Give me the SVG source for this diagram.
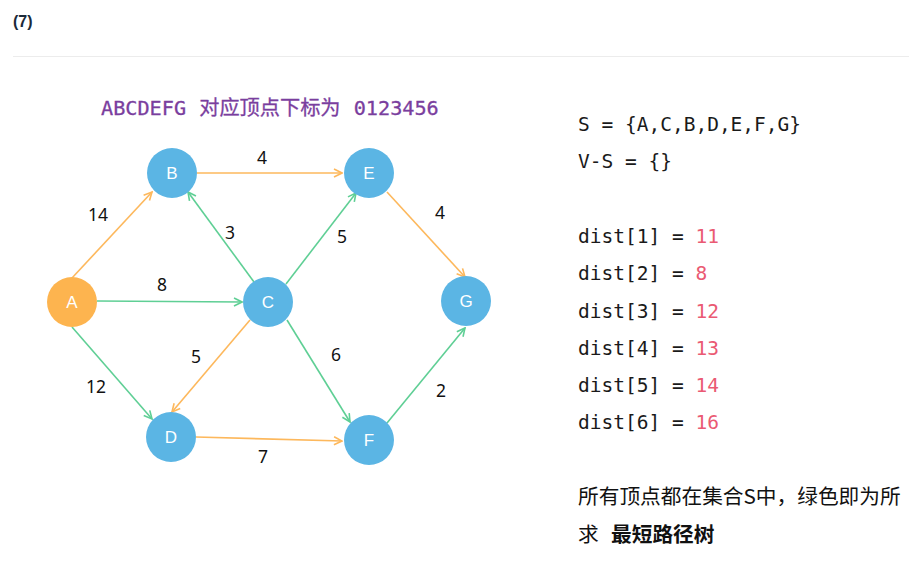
<svg xmlns="http://www.w3.org/2000/svg" width="909" height="567" viewBox="0 0 909 567">
<style>
.node circle{fill:#5bb5e4}
.node text{font-family:"Liberation Sans",Arial,sans-serif;font-size:17px;fill:#fff;text-anchor:middle}
.g{stroke:#5fcf95;stroke-width:1.6;fill:none;marker-end:url(#ag)}
.o{stroke:#fdb85c;stroke-width:1.6;fill:none;marker-end:url(#ao)}
.lbl{font-family:"Noto Sans","DejaVu Sans",sans-serif;font-size:17.5px;fill:#111;text-anchor:middle}
.mono{font-family:"DejaVu Sans Mono","Noto Sans CJK SC",monospace;font-size:19.5px;fill:#1a1a1a}
.num{fill:#ea5a73}
.cjk{font-family:"Noto Sans CJK SC","Noto Sans",sans-serif;font-size:20.7px;fill:#111}
</style>
<defs>
<marker id="ag" viewBox="0 0 10 10" refX="9" refY="5" markerWidth="10" markerHeight="10" markerUnits="userSpaceOnUse" orient="auto"><path d="M1,1 L9,5 L1,9" fill="none" stroke="#5fcf95" stroke-width="1.6"/></marker>
<marker id="ao" viewBox="0 0 10 10" refX="9" refY="5" markerWidth="10" markerHeight="10" markerUnits="userSpaceOnUse" orient="auto"><path d="M1,1 L9,5 L1,9" fill="none" stroke="#fdb85c" stroke-width="1.6"/></marker>
</defs>
<rect width="909" height="567" fill="#fff"/>
<text x="13" y="27" font-family="Liberation Sans,Arial,sans-serif" font-size="16" font-weight="bold" fill="#1b2a3a">(7)</text>
<line x1="13" y1="56.5" x2="909" y2="56.5" stroke="#ececec" stroke-width="1"/>
<text x="101" y="115" font-family="DejaVu Sans Mono,Noto Sans CJK SC,monospace" font-size="20.2" word-spacing="1" fill="#7a3e9e" stroke="#7a3e9e" stroke-width="0.3">ABCDEFG 对应顶点下标为 0123456</text>
<g id="edges">
<line class="o" x1="72" y1="278" x2="152" y2="192"/>
<line class="g" x1="97" y1="301" x2="242" y2="302"/>
<line class="g" x1="254" y1="282" x2="188" y2="192"/>
<line class="o" x1="197" y1="173" x2="342" y2="173"/>
<line class="g" x1="286" y1="284" x2="356" y2="193"/>
<line class="o" x1="387" y1="192" x2="465" y2="277"/>
<line class="g" x1="72" y1="327" x2="152" y2="419"/>
<line class="o" x1="250" y1="320" x2="172" y2="412"/>
<line class="g" x1="287" y1="320" x2="350" y2="422"/>
<line class="o" x1="196" y1="437" x2="342" y2="441"/>
<line class="g" x1="387" y1="423" x2="465" y2="328"/>
</g>
<g id="edge-labels">
<text class="lbl" x="262" y="164">4</text>
<text class="lbl" x="98" y="221">14</text>
<text class="lbl" x="230" y="239">3</text>
<text class="lbl" x="162" y="291">8</text>
<text class="lbl" x="342" y="243">5</text>
<text class="lbl" x="440" y="219">4</text>
<text class="lbl" x="196" y="363">5</text>
<text class="lbl" x="336" y="361">6</text>
<text class="lbl" x="96" y="393">12</text>
<text class="lbl" x="441" y="397">2</text>
<text class="lbl" x="263" y="463">7</text>
</g>
<g id="A" class="node"><circle cx="72" cy="302" r="25" style="fill:#fdb44f"/><text x="72" y="308">A</text></g>
<g id="B" class="node"><circle cx="172" cy="173" r="25"/><text x="172" y="179">B</text></g>
<g id="C" class="node"><circle cx="268" cy="302" r="25"/><text x="268" y="308">C</text></g>
<g id="D" class="node"><circle cx="171" cy="437" r="25"/><text x="171" y="443">D</text></g>
<g id="E" class="node"><circle cx="369" cy="173" r="25"/><text x="369" y="179">E</text></g>
<g id="F" class="node"><circle cx="369" cy="440" r="25"/><text x="369" y="446">F</text></g>
<g id="G" class="node"><circle cx="466" cy="301" r="25"/><text x="466" y="307">G</text></g>
<g id="panel">
<text class="mono" x="578" y="131">S = {A,C,B,D,E,F,G}</text>
<text class="mono" x="578" y="168">V-S = {}</text>
<text class="mono" x="578" y="243">dist[1] = <tspan class="num">11</tspan></text>
<text class="mono" x="578" y="280">dist[2] = <tspan class="num">8</tspan></text>
<text class="mono" x="578" y="318">dist[3] = <tspan class="num">12</tspan></text>
<text class="mono" x="578" y="355">dist[4] = <tspan class="num">13</tspan></text>
<text class="mono" x="578" y="392">dist[5] = <tspan class="num">14</tspan></text>
<text class="mono" x="578" y="429">dist[6] = <tspan class="num">16</tspan></text>
<text class="cjk" x="578" y="504">所有顶点都在集合S中，绿色即为所</text>
<text class="cjk" x="578" y="542">求</text>
<text class="cjk" x="611" y="542" font-weight="bold">最短路径树</text>
</g>
</svg>
